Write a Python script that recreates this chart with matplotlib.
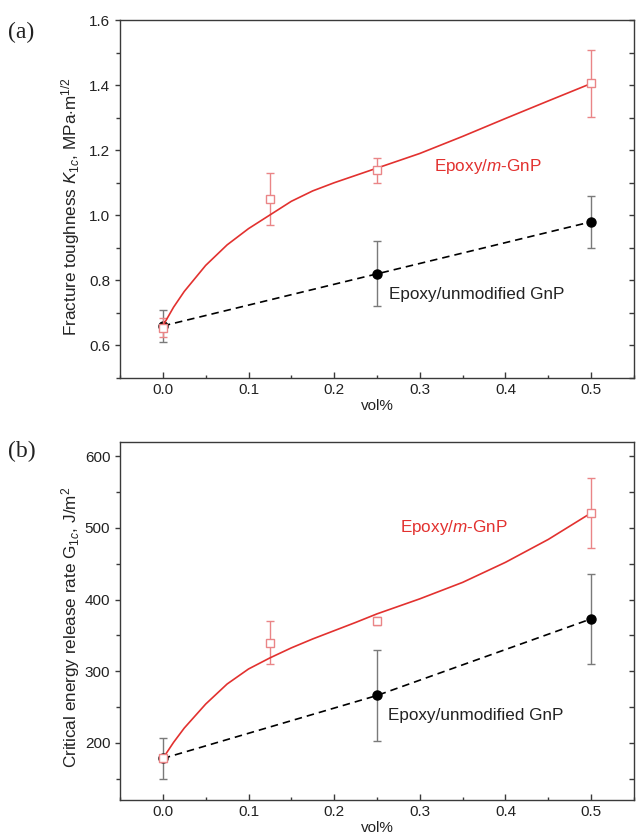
import matplotlib
matplotlib.use("Agg")
import matplotlib.pyplot as plt
from matplotlib.ticker import MultipleLocator

plt.rcParams['font.family'] = ['Liberation Sans', 'DejaVu Sans']
plt.rcParams['mathtext.fontset'] = 'custom'
plt.rcParams['mathtext.rm'] = 'Liberation Sans'
plt.rcParams['mathtext.it'] = 'Liberation Sans:italic'

# measured points
vol = [0.0, 0.125, 0.25, 0.5]
vol_unmod = [0.0, 0.25, 0.5]

k_mod = [0.655, 1.05, 1.138, 1.406]
k_mod_err = [0.03, 0.08, 0.038, 0.103]
k_unmod = [0.66, 0.82, 0.98]
k_unmod_err = [0.05, 0.10, 0.08]

g_mod = [178, 340, 370, 521]
g_mod_err = [5, 30, 5, 49]
g_unmod = [178, 266, 373]
g_unmod_err = [29, 64, 63]

# smoothed fit curve for the modified GnP
fit_x = [0.0, 0.0125, 0.025, 0.05, 0.075, 0.1, 0.125, 0.15, 0.175, 0.2,
         0.225, 0.25, 0.3, 0.35, 0.4, 0.45, 0.5]
k_fit = [0.66, 0.7175, 0.766, 0.846, 0.909, 0.959, 1.001, 1.043, 1.075, 1.10,
         1.1225, 1.145, 1.19, 1.2425, 1.2975, 1.3515, 1.405]
g_fit = [178, 200.5, 220.5, 254, 282, 303, 318.5, 332.5, 345, 356.5,
         368, 380, 401, 424, 452, 484, 521]

RED = '#e2312f'
RED_ERR = '#ea8587'
GRAY_ERR = '#7a7a7a'
FRAME = '#3a3a3a'
TXT = '#222222'

fig = plt.figure(figsize=(6.36, 8.35), dpi=100)
ax1 = fig.add_axes([0.1887, 0.5473, 0.8081, 0.4287])
ax2 = fig.add_axes([0.1887, 0.0419, 0.8081, 0.4287])


def panel(ax, y_mod, e_mod, y_un, e_un, fit, ylim, major, minor, rstep):
    ax.errorbar(vol_unmod, y_un, yerr=e_un, fmt='none', ecolor=GRAY_ERR,
                elinewidth=1.0, capsize=3, capthick=1.0, zorder=2)
    ax.plot(vol_unmod, y_un, '--', color='black', lw=1.2, dashes=(4.5, 3),
            zorder=3)
    ax.plot(vol_unmod, y_un, 'o', color='black', ms=6.5, zorder=4)
    ax.errorbar(vol, y_mod, yerr=e_mod, fmt='none', ecolor=RED_ERR,
                elinewidth=1.0, capsize=3, capthick=1.0, zorder=5)
    ax.plot(fit_x, fit, '-', color=RED, lw=1.2, zorder=6)
    ax.plot(vol, y_mod, 's', mfc='white', mec=RED_ERR, mew=1.0, ms=6,
            zorder=7)

    ax.set_xlim(-0.05, 0.55)
    ax.set_ylim(*ylim)
    ax.xaxis.set_major_locator(MultipleLocator(0.1))
    ax.xaxis.set_minor_locator(MultipleLocator(0.05))
    ax.yaxis.set_major_locator(MultipleLocator(major))
    ax.yaxis.set_minor_locator(MultipleLocator(minor))
    ax.tick_params(axis='x', which='both', direction='in', top=False,
                   colors=FRAME, labelcolor=TXT, labelsize=11)
    ax.tick_params(axis='x', which='major', length=4.5, width=1)
    ax.tick_params(axis='x', which='minor', length=2.5, width=1)
    ax.tick_params(axis='y', which='both', direction='out', right=False,
                   colors=FRAME, labelcolor=TXT, labelsize=11)
    ax.tick_params(axis='y', which='major', length=3.5, width=1)
    ax.tick_params(axis='y', which='minor', length=3, width=1)
    for s in ax.spines.values():
        s.set_color(FRAME)
        s.set_linewidth(1.0)

    tw = ax.twinx()
    tw.set_ylim(*ylim)
    tw.yaxis.set_major_locator(MultipleLocator(rstep))
    tw.tick_params(axis='y', direction='in', length=3.5, width=1,
                   colors=FRAME, labelright=False)
    for s in tw.spines.values():
        s.set_visible(False)

    ax.set_xlabel('vol%', fontsize=11, color=TXT)
    ax.xaxis.set_label_coords(0.5, -0.058)


panel(ax1, k_mod, k_mod_err, k_unmod, k_unmod_err, k_fit,
      (0.5, 1.6), 0.2, 0.1, 0.1)
panel(ax2, g_mod, g_mod_err, g_unmod, g_unmod_err, g_fit,
      (120, 620), 100, 50, 50)

ax1.set_yticks([0.6, 0.8, 1.0, 1.2, 1.4, 1.6])
ax1.set_yticklabels(['0.6', '0.8', '1.0', '1.2', '1.4', '1.6'])
ax2.set_yticks([200, 300, 400, 500, 600])

ax1.set_ylabel(r'Fracture toughness $\mathit{K}_{1c}$, MPa$\cdot$m$^{1/2}$',
               fontsize=12.3, color=TXT)
ax1.yaxis.set_label_coords(-0.074, 0.480)
ax2.set_ylabel(r'Critical energy release rate G$_{1c}$, J/m$^2$',
               fontsize=12.3, color=TXT)
ax2.yaxis.set_label_coords(-0.074, 0.483)

ax1.text(0.316, 1.15, r'Epoxy/$\mathit{m}$-GnP', color=RED, fontsize=12.3,
         ha='left', va='center')
ax1.text(0.264, 0.756, 'Epoxy/unmodified GnP', color=TXT,
         fontsize=12.3, ha='left', va='center')
ax2.text(0.277, 500, r'Epoxy/$\mathit{m}$-GnP', color=RED, fontsize=12.3,
         ha='left', va='center')
ax2.text(0.263, 238, 'Epoxy/unmodified GnP', color=TXT,
         fontsize=12.3, ha='left', va='center')

fig.text(8 / 636, 1 - 32 / 835, '(a)', family='Liberation Serif',
         fontsize=17, ha='left', va='center', color=TXT)
fig.text(8 / 636, 1 - 451 / 835, '(b)', family='Liberation Serif',
         fontsize=17, ha='left', va='center', color=TXT)

fig.savefig('out.png', dpi=100)
